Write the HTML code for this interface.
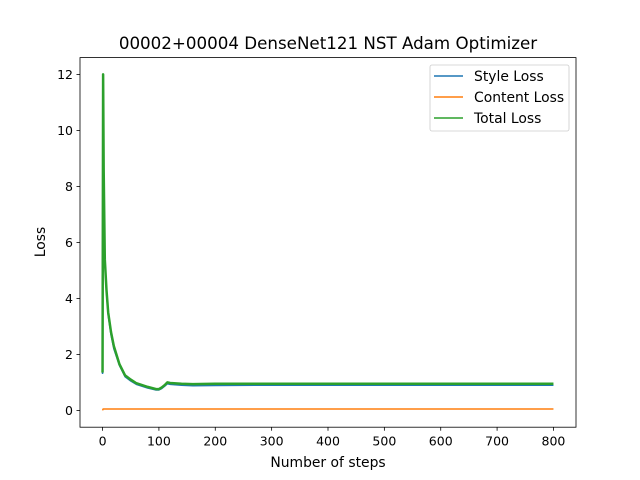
<!DOCTYPE html>
<html><head><meta charset="utf-8"><style>
body{margin:0;background:#fff;}
svg{display:block;font-family:"DejaVu Sans","Liberation Sans",sans-serif;}
</style></head><body>
<svg id="chart" width="640" height="480" viewBox="0 0 640 480">
<rect width="640" height="480" fill="#fff"/>
<text x="328" y="49" font-size="16.7" text-anchor="middle">00002+00004 DenseNet121 NST Adam Optimizer</text>
<g id="plot"></g>
<rect x="80" y="57.6" width="496" height="369.6" fill="none" stroke="#000" stroke-width="0.8"/>
<g id="ticks"></g>
<text x="328" y="467" font-size="13.9" text-anchor="middle">Number of steps</text>
<text x="0" y="0" font-size="13.9" text-anchor="middle" transform="translate(45,242) rotate(-90)">Loss</text>
<g>
<rect x="430" y="65" width="139" height="66" rx="2" fill="#fff" fill-opacity="0.8" stroke="#ccc" stroke-width="0.8"/>
<line x1="434" y1="76" x2="463" y2="76" stroke="#1f77b4" stroke-width="1.5"/>
<text x="474" y="81" font-size="13.9">Style Loss</text>
<line x1="434" y1="97" x2="463" y2="97" stroke="#ff7f0e" stroke-width="1.5"/>
<text x="474" y="102" font-size="13.9">Content Loss</text>
<line x1="434" y1="118" x2="463" y2="118" stroke="#2ca02c" stroke-width="1.5"/>
<text x="474" y="123" font-size="13.9">Total Loss</text>
</g>
</svg>
<script>
const steps = [0,1,2,4,7,10,15,20,30,40,50,60,80,95,100,105,110,115,120,140,160,200,300,400,500,600,700,800];
const styleLoss = [1.3,11.9,8.5,5.3,4.2,3.4,2.7,2.2,1.6,1.2,1.05,0.93,0.8,0.73,0.73,0.78,0.86,0.95,0.93,0.9,0.88,0.89,0.9,0.9,0.9,0.9,0.9,0.9];
const contentLoss = [0.0,0.05,0.05,0.05,0.05,0.05,0.05,0.05,0.05,0.05,0.05,0.05,0.05,0.05,0.05,0.05,0.05,0.05,0.05,0.05,0.05,0.05,0.05,0.05,0.05,0.05,0.05,0.05];
const totalLoss = [1.35,12.0,8.6,5.4,4.3,3.5,2.8,2.3,1.65,1.25,1.1,0.97,0.84,0.76,0.76,0.82,0.9,1.0,0.98,0.95,0.94,0.95,0.95,0.95,0.95,0.95,0.95,0.95];
const xTicks = [0,100,200,300,400,500,600,700,800];
const yTicks = [0,2,4,6,8,10,12];

const sx = v => 80 + (v + 40) * 496 / 880;
const sy = v => 427.2 - (v + 0.6) * 369.6 / 13.2;
const NS = 'http://www.w3.org/2000/svg';
const plot = document.getElementById('plot');
const ticks = document.getElementById('ticks');
function line(ys, color, name) {
  const p = document.createElementNS(NS, 'polyline');
  p.setAttribute('points', steps.map((s, i) => sx(s).toFixed(2) + ',' + sy(ys[i]).toFixed(2)).join(' '));
  p.setAttribute('fill', 'none');
  p.setAttribute('stroke', color);
  p.setAttribute('stroke-width', name === 'total-loss-line' ? '2.5' : '1.5');
  p.setAttribute('stroke-linejoin', 'round');
  
  
  plot.appendChild(p);
}
line(styleLoss, '#1f77b4', 'style-loss-line');
line(contentLoss, '#ff7f0e', 'content-loss-line');
line(totalLoss, '#2ca02c', 'total-loss-line');
xTicks.forEach(t => {
  const x = sx(t);
  const l = document.createElementNS(NS, 'line');
  l.setAttribute('x1', x); l.setAttribute('x2', x); l.setAttribute('y1', 427.2); l.setAttribute('y2', 430.7);
  l.setAttribute('stroke', '#000'); l.setAttribute('stroke-width', '0.8');
  
  
  ticks.appendChild(l);
  const tx = document.createElementNS(NS, 'text');
  tx.setAttribute('x', x); tx.setAttribute('y', 445.5); tx.setAttribute('font-size', '12.5');
  tx.setAttribute('text-anchor', 'middle'); tx.textContent = t;
  
  
  ticks.appendChild(tx);
});
yTicks.forEach(t => {
  const y = sy(t);
  const l = document.createElementNS(NS, 'line');
  l.setAttribute('x1', 76.5); l.setAttribute('x2', 80); l.setAttribute('y1', y); l.setAttribute('y2', y);
  l.setAttribute('stroke', '#000'); l.setAttribute('stroke-width', '0.8');
  
  
  ticks.appendChild(l);
  const tx = document.createElementNS(NS, 'text');
  tx.setAttribute('x', 73); tx.setAttribute('y', y + 4.5); tx.setAttribute('font-size', '12.5');
  tx.setAttribute('text-anchor', 'end'); tx.textContent = t;
  
  
  ticks.appendChild(tx);
});
</script>
</body></html>
